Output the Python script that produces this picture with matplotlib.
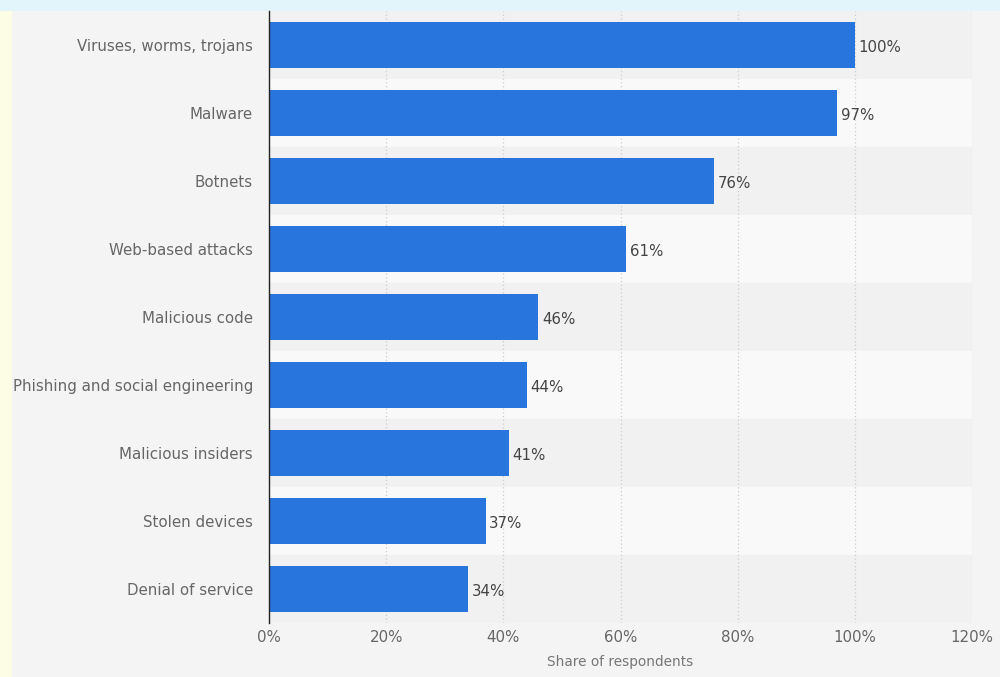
import numpy as np
import matplotlib.pyplot as plt
from matplotlib.patches import Rectangle

categories = ['Viruses, worms, trojans', 'Malware', 'Botnets', 'Web-based attacks',
              'Malicious code', 'Phishing and social engineering', 'Malicious insiders',
              'Stolen devices', 'Denial of service']
values = [100, 97, 76, 61, 46, 44, 41, 37, 34]
xticks = [0, 20, 40, 60, 80, 100, 120]

fig = plt.figure(figsize=(10, 6.77), dpi=100, facecolor='#fdfde6')
# outer frame: light blue strip on top, grey panel
fig.patches.append(Rectangle((0, 1 - 11/677), 1, 11/677, transform=fig.transFigure,
                             facecolor='#e2f5fb', edgecolor='none', zorder=-2))
fig.patches.append(Rectangle((12/1000, 0), 1 - 12/1000, 1 - 11/677, transform=fig.transFigure,
                             facecolor='#f4f4f4', edgecolor='none', zorder=-2))

ax = fig.add_axes([0.269, 1 - 623/677, 0.703, (623 - 11)/677])
ax.set_facecolor('none')

y = np.arange(len(categories))
for i in y:
    ax.axhspan(i - 0.5, i + 0.5, color='#f1f1f1' if i % 2 == 0 else '#f9f9f9', zorder=0)

ax.barh(y, values, height=0.68, color='#2876dd', zorder=3)
for i, v in zip(y, values):
    ax.text(v + 0.6, i + 0.04, f'{v}%', va='center', ha='left', fontsize=10.8,
            color='#444444', zorder=4)

ax.set_ylim(len(categories) - 0.5, -0.5)
ax.set_xlim(0, 120)
ax.set_yticks(y)
ax.set_yticklabels(categories, fontsize=10.8, color='#666666')
for lbl in ax.get_yticklabels():
    lbl.set_va('center_baseline')
ax.set_xticks(xticks)
ax.set_xticklabels([f'{t}%' for t in xticks], fontsize=10.8, color='#666666')
ax.tick_params(axis='y', length=0, pad=11.5)
ax.tick_params(axis='x', length=0, pad=5)
ax.xaxis.grid(True, linestyle=(0, (1, 2)), color='#cccccc', linewidth=0.9, zorder=1)
ax.set_axisbelow(True)
for s in ['top', 'right', 'bottom']:
    ax.spines[s].set_visible(False)
ax.spines['left'].set_color('#222222')
ax.spines['left'].set_linewidth(1.0)
ax.spines['left'].set_zorder(5)
ax.set_xlabel('Share of respondents', fontsize=9.8, color='#777777', labelpad=7)

fig.savefig('out.png', dpi=100, facecolor=fig.get_facecolor())
